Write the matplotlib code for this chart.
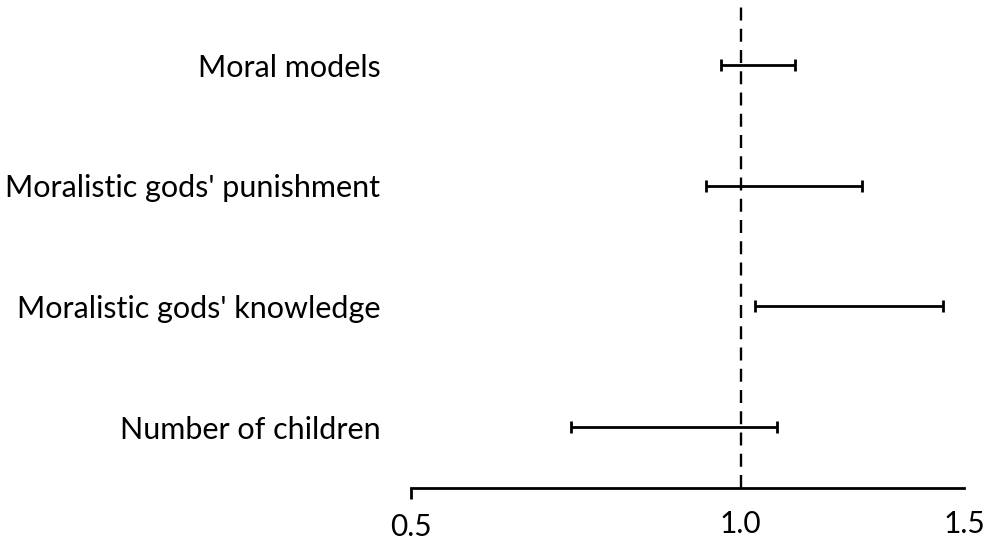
import numpy as np
import matplotlib
matplotlib.use("Agg")
import matplotlib.pyplot as plt
from matplotlib.ticker import FixedLocator, FixedFormatter

categories = ["Number of children", "Moralistic gods' knowledge",
              "Moralistic gods' punishment", "Moral models"]
lower = [0.700, 1.031, 0.930, 0.960]
upper = [1.080, 1.531, 1.291, 1.121]
tick_values = [1.0, 1.6]
tick_labels = ["1.0", "1.5"]
start_value = [0.5]
start_label = ["0.5"]

plt.rcParams['font.family'] = ['Lato', 'DejaVu Sans']

fig = plt.figure(figsize=(9.84, 5.46), dpi=100)
ax = fig.add_axes([411/984, 58.5/546, (964-411)/984, 487.5/546])

lo = np.array(lower)
hi = np.array(upper)
center = np.sqrt(lo * hi)
y = np.arange(len(categories))

ax.errorbar(center, y, xerr=[center - lo, hi - center], fmt='none',
            ecolor='black', elinewidth=2, capsize=4, capthick=2)
ax.axvline(1.0, color='black', lw=1.7, ls=(0, (5.5, 3.5)), zorder=0)

ax.set_xscale('log')
ax.set_xlim(0.5, 1.6)
ax.set_ylim(-0.5, 3.54)

ax.xaxis.set_major_locator(FixedLocator(tick_values))
ax.xaxis.set_major_formatter(FixedFormatter(tick_labels))
ax.xaxis.set_minor_locator(FixedLocator(start_value))
ax.xaxis.set_minor_formatter(FixedFormatter(start_label))
ax.tick_params(axis='x', which='major', length=0, pad=16, labelsize=21.5)
ax.tick_params(axis='x', which='minor', length=8, width=2, direction='out',
               pad=10, labelsize=21.5)

ax.set_yticks(y)
ax.set_yticklabels(categories)
ax.tick_params(axis='y', length=0, pad=22, labelsize=22)

for s in ['top', 'right', 'left']:
    ax.spines[s].set_visible(False)
ax.spines['bottom'].set_linewidth(2)

fig.savefig("out.png", dpi=100)
